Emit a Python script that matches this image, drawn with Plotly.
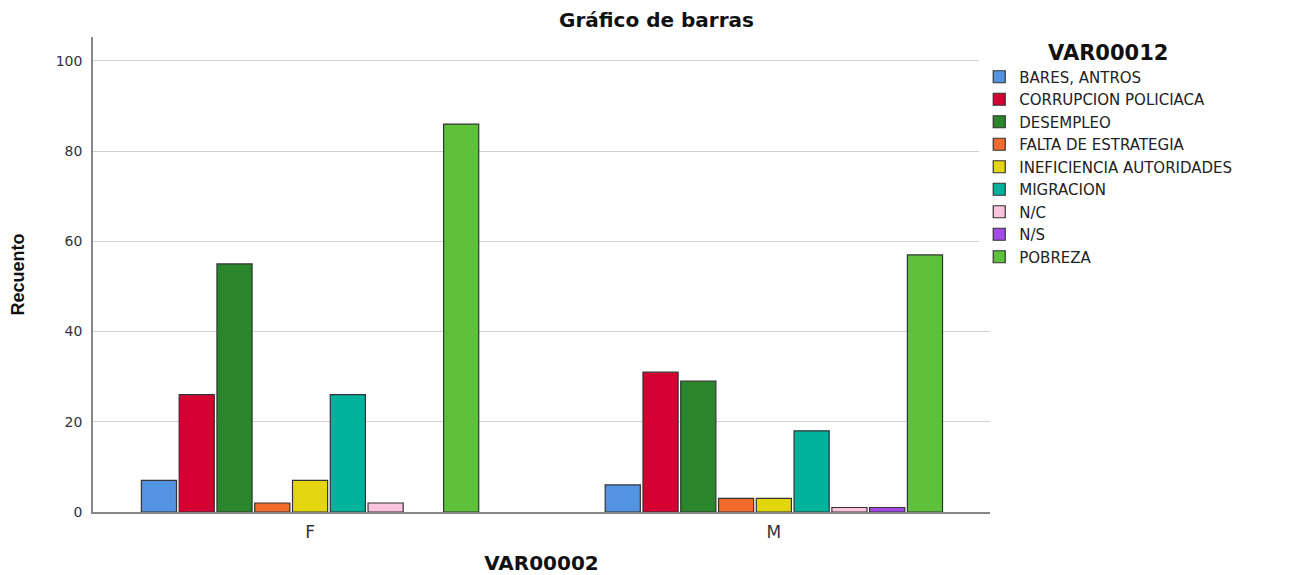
import plotly.graph_objects as go

# Categories on the x axis (VAR00002) and the series (VAR00012)
sexo = ["F", "M"]
causas = ["BARES, ANTROS", "CORRUPCION POLICIACA", "DESEMPLEO", "FALTA DE ESTRATEGIA",
          "INEFICIENCIA AUTORIDADES", "MIGRACION", "N/C", "N/S", "POBREZA"]

# Counts per cause, [F, M]
bares = [7, 6]
corrupcion = [26, 31]
desempleo = [55, 29]
falta_estrategia = [2, 3]
ineficiencia = [7, 3]
migracion = [26, 18]
n_c = [2, 1]
n_s = [None, 1]
pobreza = [86, 57]

valores = [bares, corrupcion, desempleo, falta_estrategia, ineficiencia,
           migracion, n_c, n_s, pobreza]
colores = ["#5294E2", "#D50032", "#2A862A", "#F26A2C", "#E3D60E",
           "#00B19C", "#FCC2DE", "#A44AE9", "#5DC23A"]

fig = go.Figure()
for nombre, vals, col in zip(causas, valores, colores):
    fig.add_trace(go.Bar(x=sexo, y=vals, name=nombre,
                         marker=dict(color=col, line=dict(color="#333333", width=1.2))))

# page body has an 8px margin, so the figure is a bit smaller than the window
fig.update_layout(
    width=1297, height=567,
    barmode="group", bargap=0.267, bargroupgap=0.07,
    plot_bgcolor="white", paper_bgcolor="white",
    font=dict(family="DejaVu Sans", color="#222222"),
    margin=dict(l=85, r=315, t=29, b=63),
    title=dict(text="<b>Gráfico de barras</b>", x=0.5, xref="container",
               y=1 - 12 / 567, yanchor="middle", font=dict(size=20, color="#111111")),
    legend=dict(x=0.988, xanchor="left", y=1.008, yanchor="top",
                font=dict(size=15, color="#222222"),
                title=dict(text="<b>VAR00012</b>", side="top center",
                           font=dict(size=21, color="#111111")),
                itemwidth=30, tracegroupgap=0),
    showlegend=True,
)

fig.update_xaxes(range=[-0.468, 1.466],
                 showline=True, linecolor="#888888", linewidth=1.5, automargin=False,
                 ticks="", ticklabelstandoff=4, tickfont=dict(size=17, color="#333333"),
                 title=dict(text="<b>VAR00002</b>", standoff=18,
                            font=dict(size=20, color="#111111")))
fig.update_yaxes(range=[0, 105.3], tickvals=[0, 20, 40, 60, 80, 100],
                 showline=True, linecolor="#888888", linewidth=1.5, automargin=False,
                 showgrid=True, gridcolor="#D0D0D0", gridwidth=1,
                 zeroline=False, ticks="", ticklabelstandoff=6,
                 tickfont=dict(size=14, color="#333333"),
                 title=dict(text="<b>Recuento</b>", standoff=29,
                            font=dict(family="Liberation Sans Narrow, Liberation Sans", size=18,
                                      color="#111111")))

fig.write_html("out.html")
